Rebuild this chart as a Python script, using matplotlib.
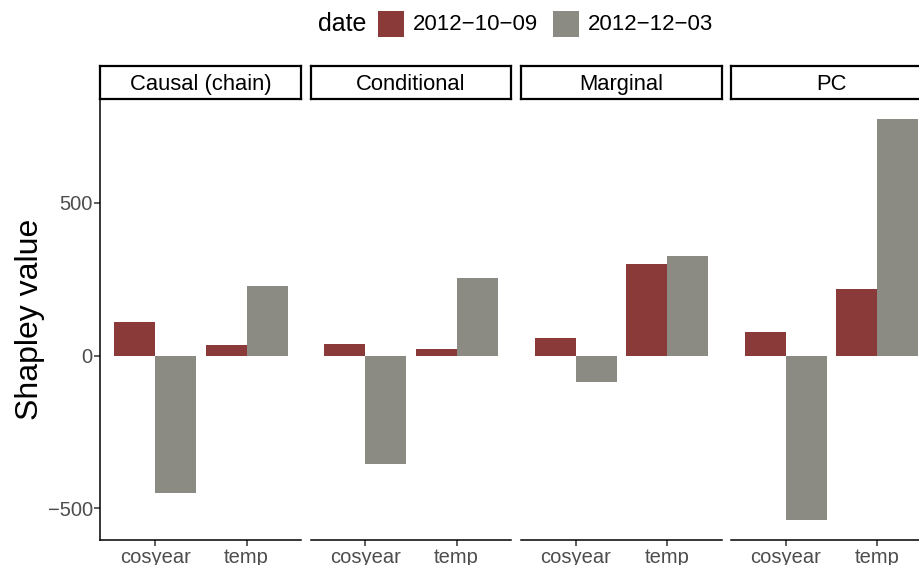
import numpy as np
import matplotlib.pyplot as plt
from matplotlib.patches import Rectangle

plt.rcParams['font.family'] = ['Liberation Sans', 'DejaVu Sans']

# Shapley values per method, feature and date
methods = ['Causal (chain)', 'Conditional', 'Marginal', 'PC']
features = ['cosyear', 'temp']
dates = ['2012\u221210\u221209', '2012\u221212\u221203']
colors = ['#8B3A3A', '#8B8B83']

shap_oct = {  # 2012-10-09
    'Causal (chain)': [111, 36],
    'Conditional': [39, 20],
    'Marginal': [59, 298],
    'PC': [78, 219],
}
shap_dec = {  # 2012-12-03
    'Causal (chain)': [-451, 229],
    'Conditional': [-356, 255],
    'Marginal': [-87, 327],
    'PC': [-538, 774],
}

W, H = 920, 565
fig = plt.figure(figsize=(W / 100, H / 100), dpi=100)

panel_left = [100.5, 310.5, 521, 731]
panel_w = 201
panel_top, panel_bot = 99, 540
strip_top = 66

all_vals = np.concatenate([np.array(list(shap_oct.values())).ravel(),
                           np.array(list(shap_dec.values())).ravel(), [0]])
lo, hi = all_vals.min(), all_vals.max()
pad = 0.05 * (hi - lo)

x = np.arange(1, len(features) + 1)
bw = 0.45

for i, m in enumerate(methods):
    l = panel_left[i]
    ax = fig.add_axes([l / W, (H - panel_bot) / H, panel_w / W, (panel_bot - panel_top) / H])
    ax.bar(x - bw / 2, shap_oct[m], width=bw, color=colors[0], linewidth=0)
    ax.bar(x + bw / 2, shap_dec[m], width=bw, color=colors[1], linewidth=0)
    ax.set_xlim(0.4, 2.6)
    ax.set_ylim(lo - pad, hi + pad)
    ax.set_xticks(x)
    ax.set_xticklabels(features, fontsize=15.5, color='#4D4D4D')
    ax.set_yticks([-500, 0, 500])
    for s in ['top', 'right']:
        ax.spines[s].set_visible(False)
    ax.spines['bottom'].set_linewidth(1.1)
    ax.spines['left'].set_linewidth(1.1)
    ax.tick_params(length=4, width=1.1, color='#333333', labelsize=14.5, labelcolor='#4D4D4D', pad=1.5)
    if i == 0:
        ax.set_ylabel('Shapley value', fontsize=23, labelpad=2)
    else:
        ax.spines['left'].set_visible(False)
        ax.tick_params(axis='y', left=False, labelleft=False)

    # facet strip
    sx = fig.add_axes([l / W, (H - panel_top) / H, panel_w / W, (panel_top - strip_top) / H])
    sx.set_xticks([])
    sx.set_yticks([])
    for s in sx.spines.values():
        s.set_linewidth(1.6)
    sx.text(0.5, 0.45, m, ha='center', va='center', fontsize=15.8, transform=sx.transAxes)

# legend along the top: title, then key + label for each date
ly = 1 - 24 / H
fig.text(318 / W, ly, 'date', fontsize=18, ha='left', va='center')
key_x = [378, 553]
for kx, c, d in zip(key_x, colors, dates):
    fig.patches.append(Rectangle((kx / W, (H - 37) / H), 26 / W, 26 / H,
                                 transform=fig.transFigure, facecolor=c, edgecolor='none'))
    fig.text((kx + 35) / W, ly, d, fontsize=16, ha='left', va='center')

fig.savefig('out.png', dpi=100)
